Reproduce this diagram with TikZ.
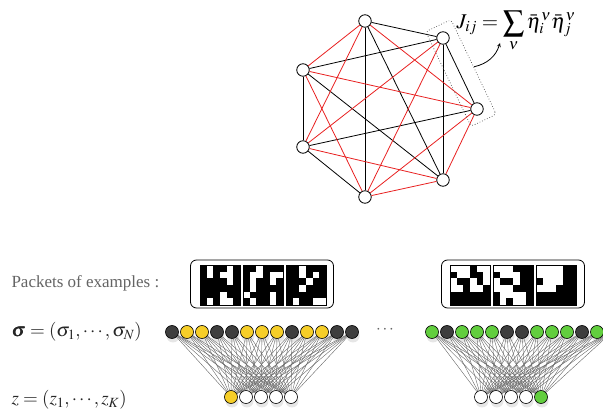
\documentclass[tikz,border=0pt]{standalone}
\usepackage{mathptmx}
\usepackage{fontspec}
\setmainfont{Liberation Serif}
\usepackage{bm}
\usetikzlibrary{backgrounds,shadows}
\tikzset{>=stealth}
\definecolor{yel}{RGB}{246,206,40}
\definecolor{grn}{RGB}{98,206,62}
\definecolor{drk}{RGB}{62,62,62}
\definecolor{txt}{RGB}{100,100,100}
\definecolor{edgered}{RGB}{232,32,32}
\tikzset{
	site/.style={circle, draw, fill=white, inner sep=0pt, minimum size=12.5pt, line width=0.8pt},
	unit/.style={circle, draw=black, inner sep=0pt, minimum size=13pt, line width=0.6pt,
		drop shadow={opacity=0.2, shadow xshift=1pt, shadow yshift=-4pt}},
	syn/.style={draw=black!60, line width=0.4pt},
	packet/.style={draw, fill=white, rounded corners=6pt, line width=0.8pt, minimum width=143pt, minimum height=48pt},
	eqfont/.style={font=\fontsize{19}{22}\selectfont}
}
% one 6x6 example, rows top to bottom, 1 = black
\newcommand{\panel}[3]{
	\fill (#1,#2) rectangle ++(40,40);
	\foreach \row [count=\r from 0] in {#3}
		\foreach \c [count=\k from 0] in \row
			{\ifnum\c=0 \fill[white] (#1+\k*6.667, #2+\r*6.667) rectangle ++(6.667,6.667); \fi}
	\draw[line width=0.6pt] (#1,#2) rectangle ++(40,40);
}
% a row of units: name, first x, y, colours
\newcommand{\layer}[4]{
	\foreach \col [count=\i] in {#4}
		\node[unit, fill=\col] (#1\i) at (#2+\i*15-15, #3) {};
}

\begin{document}
\begin{tikzpicture}[x=1pt, y=-1pt, font=\fontsize{17}{20}\selectfont]
	\useasboundingbox (0,0) rectangle (603,419);
	% Hopfield graph
	\foreach \n/\x/\y in {A/365/21, B/443/38, C/477/109, D/443/180, E/365/197, F/303/147, G/303/70}
		\node[site] (\n) at (\x,\y) {};
	\foreach \a/\b in {A/B, A/D, A/E, B/G, B/D, B/C, C/F, D/G, E/F, F/G}
		\draw[line width=0.8pt] (\a) -- (\b);
	\foreach \a/\b in {A/G, A/F, A/C, B/F, B/E, C/G, C/E, C/D, D/F, D/E, E/G}
		\draw[edgered, line width=0.8pt] (\a) -- (\b);
	\node[draw=black!70, dotted, rounded corners=3pt, rotate=-64.4, minimum width=105pt,
		minimum height=28pt, line width=0.7pt] (Jbox) at (461,73) {};
	\node[font=\fontsize{21}{24}\selectfont] (Jlabel) at (516,31) {$\displaystyle J_{ij}=\sum_\nu\bar\eta_i^\nu\bar\eta_j^\nu$};
	\coordinate (Jtip) at (500,43);
	\draw[->, line width=0.8pt] (Jbox.north) to[bend right=30] (Jtip);

	% labels
	\node[anchor=west, text=txt] (pk) at (8,283) {Packets of examples :};
	\node[anchor=west, text=black!85, eqfont] (sg) at (8,332) {$\bm\sigma=(\sigma_1,\cdots,\sigma_N)$};
	\node[anchor=west, text=black!85, eqfont] (zz) at (8,400) {$z=(z_1,\cdots,z_K)$};
	\node[text=txt] (dots) at (385,330) {$\cdots$};

	% packets
	\node[packet] (pkL) at (262,284) {};
	\node[packet] (pkR) at (513,284) {};
	\panel{200}{265}{{1,0,1,1,0,1},{1,0,1,0,0,1},{1,1,1,1,0,1},{1,1,1,1,1,1},{1,1,1,0,1,1},{1,0,1,0,0,1}}
	\panel{243}{265}{{1,1,0,1,1,1},{1,0,0,1,0,0},{1,0,1,1,0,1},{1,0,1,1,1,1},{0,1,1,1,0,1},{1,0,1,1,0,1}}
	\panel{286}{265}{{1,1,0,1,1,1},{1,1,0,1,0,1},{1,1,1,0,1,1},{1,1,0,1,1,1},{1,1,1,1,1,1},{1,0,1,1,0,0}}
	\panel{450}{265}{{0,0,0,1,0,0},{1,0,0,1,1,0},{0,1,1,0,1,0},{0,0,1,0,0,1},{1,1,1,1,1,1},{1,1,1,1,1,1}}
	\panel{493}{265}{{0,0,0,1,1,1},{1,0,0,0,1,1},{0,1,1,0,1,1},{0,0,0,1,1,1},{1,0,0,0,0,1},{1,0,1,0,0,1}}
	\panel{536}{265}{{0,0,0,0,1,1},{0,0,0,0,1,1},{1,0,0,0,1,1},{0,0,0,1,1,1},{1,1,1,1,1,1},{1,1,1,1,1,1}}

	% machines
	\layer{sa}{172}{332}{drk,yel,yel,drk,drk,yel,yel,yel,drk,yel,yel,drk,drk}
	\layer{za}{231}{397}{yel,white,white,white,white}
	\layer{sb}{432}{332}{grn,drk,grn,grn,grn,drk,drk,grn,grn,grn,drk,grn,grn}
	\layer{zb}{481}{397}{white,white,white,white,grn}
	\begin{scope}[on background layer]
		\foreach \i in {1,...,13}
			\foreach \j in {1,...,5}
			{
				\draw[syn] (sa\i) -- (za\j);
				\draw[syn] (sb\i) -- (zb\j);
			}
	\end{scope}
\end{tikzpicture}
\end{document}
